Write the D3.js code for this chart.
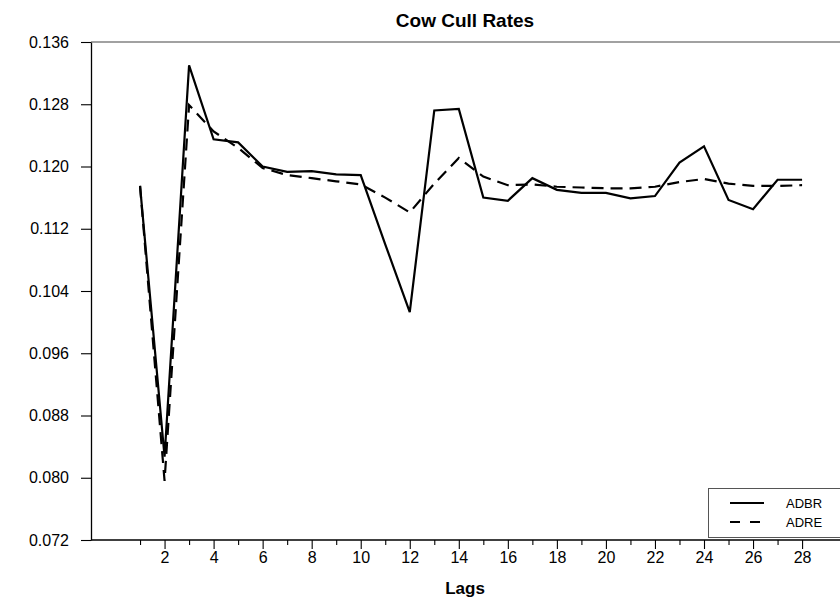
<!DOCTYPE html>
<html>
<head>
<meta charset="utf-8">
<script src="https://cdn.jsdelivr.net/npm/d3@7"></script>
<style>
  html, body { margin: 0; padding: 0; background: #fff; }
  svg { display: block; font-family: "Liberation Sans", Arial, sans-serif; }
</style>
</head>
<body>
<svg id="chart" width="840" height="601"></svg>
<script>
const lags = [1,2,3,4,5,6,7,8,9,10,11,12,13,14,15,16,17,18,19,20,21,22,23,24,25,26,27,28];
const adbr = [0.1175,0.0827,0.1330,0.1235,0.1231,0.1200,0.1193,0.1194,0.1190,0.1189,0.1100,0.1013,0.1272,0.1274,0.1160,0.1156,0.1185,0.1170,0.1166,0.1166,0.1159,0.1162,0.1205,0.1226,0.1157,0.1145,0.1183,0.1183];
const adre = [0.1175,0.0796,0.1279,0.1245,0.1224,0.1198,0.1189,0.1185,0.1181,0.1177,0.1160,0.1141,0.1178,0.1211,0.1187,0.1176,0.1177,0.1174,0.1173,0.1172,0.1172,0.1174,0.1180,0.1184,0.1178,0.1175,0.1175,0.1176];
const yTicks = [0.072,0.080,0.088,0.096,0.104,0.112,0.120,0.128,0.136];
const xMajor = [2,4,6,8,10,12,14,16,18,20,22,24,26,28];
const xMinor = [1,3,5,7,9,11,13,15,17,19,21,23,25,27];
const series = [
  {name: "ADBR", values: adbr, dash: null},
  {name: "ADRE", values: adre, dash: "12,7"}
];
const title = "Cow Cull Rates";
const xTitle = "Lags";

const svg = d3.select("#chart");
const mLeft = 91, mTop = 42, mBottom = 540;
const x = d3.scaleLinear().domain([-1, 30]).range([mLeft, mLeft + 31 * 24.52]);
const y = d3.scaleLinear().domain([0.072, 0.136]).range([mBottom, mTop]);

// top frame line
svg.append("line").attr("x1", mLeft).attr("x2", 840).attr("y1", mTop).attr("y2", mTop)
  .attr("stroke", "#444").attr("stroke-width", 1.2);

// y axis
const ya = svg.append("g").attr("transform", `translate(${mLeft},0)`)
  .call(d3.axisLeft(y).tickValues(yTicks).tickFormat(d3.format(".3f")).tickSize(10).tickSizeOuter(0).tickPadding(12));
ya.select(".domain").attr("stroke", "#000").attr("stroke-width", 1.3);
ya.selectAll(".tick line").attr("stroke", "#000").attr("stroke-width", 1.1);
ya.selectAll("text").attr("font-size", 16).attr("fill", "#000").attr("font-family", "Liberation Sans, Arial, sans-serif");

// x axis
const xaMinor = svg.append("g").attr("transform", `translate(0,${mBottom})`)
  .call(d3.axisBottom(x).tickValues(xMinor).tickFormat("").tickSize(5).tickSizeOuter(0));
xaMinor.select(".domain").remove();
xaMinor.selectAll(".tick line").attr("stroke", "#000").attr("stroke-width", 1.1);
const xa = svg.append("g").attr("transform", `translate(0,${mBottom})`)
  .call(d3.axisBottom(x).tickValues(xMajor).tickSize(9).tickSizeOuter(0).tickPadding(3));
xa.select(".domain").remove();
xa.selectAll(".tick line").attr("stroke", "#000").attr("stroke-width", 1.1);
xa.selectAll("text").attr("font-size", 16).attr("fill", "#000").attr("font-family", "Liberation Sans, Arial, sans-serif");
svg.append("line").attr("x1", mLeft).attr("x2", 840).attr("y1", mBottom).attr("y2", mBottom)
  .attr("stroke", "#000").attr("stroke-width", 1.3);

// lines
const line = d3.line().x((d, i) => x(lags[i])).y(d => y(d));
series.forEach(s => {
  svg.append("path").datum(s.values).attr("d", line)
    .attr("fill", "none").attr("stroke", "#000").attr("stroke-width", 2.2)
    .attr("stroke-linejoin", "miter")
    .attr("stroke-dasharray", s.dash);
});

// title
svg.append("text").attr("x", 465).attr("y", 27).attr("text-anchor", "middle")
  .attr("font-size", 19).attr("font-weight", "bold").text(title);
svg.append("text").attr("x", 465).attr("y", 594).attr("text-anchor", "middle")
  .attr("font-size", 17).attr("font-weight", "bold").text(xTitle);

// legend
const lg = svg.append("g");
lg.append("rect").attr("x", 708.5).attr("y", 488.5).attr("width", 140).attr("height", 49)
  .attr("fill", "#fff").attr("stroke", "#555").attr("stroke-width", 1);
series.forEach((s, i) => {
  const yy = 503 + i * 19;
  lg.append("line").attr("x1", 730).attr("x2", 764).attr("y1", yy).attr("y2", yy)
    .attr("stroke", "#000").attr("stroke-width", 2.2).attr("stroke-dasharray", s.dash ? "10,10" : null);
  lg.append("text").attr("x", 786).attr("y", yy + 4.5).attr("font-size", 13).text(s.name);
});
</script>
</body>
</html>
